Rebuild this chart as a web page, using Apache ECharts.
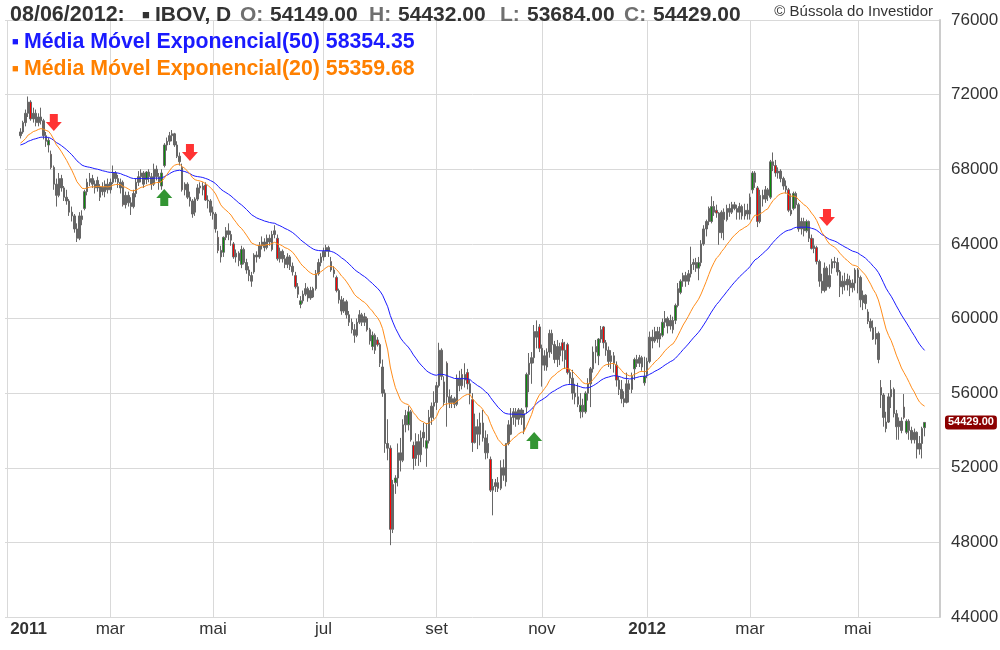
<!DOCTYPE html>
<html><head><meta charset="utf-8">
<script src="https://cdn.jsdelivr.net/npm/echarts@6/dist/echarts.min.js"></script>
<style>html,body{margin:0;padding:0;background:#fff}#c{width:1000px;height:650px}</style>
</head><body><div id="c"></div>
<script>
// ---- calendar (B3 trading days) ----
const firstDay = '2011-01-03';
const lastDay = '2012-06-08';
const holidays = ['2011-01-25','2011-03-07','2011-03-08','2011-04-21','2011-04-22','2011-06-23',
  '2011-09-07','2011-10-12','2011-11-02','2011-11-15','2011-12-30',
  '2012-01-25','2012-02-20','2012-02-21','2012-04-06','2012-05-01','2012-06-07'];
const monthLabels = ['jan','fev','mar','abr','mai','jun','jul','ago','set','out','nov','dez'];
const yTicks = {min: 44000, max: 76000, step: 4000};

// ---- prices: IBOV daily [open, high, low, close], from trading day #5 (10/01/2011) ----
const dataStart = 5;
const ohlc = [
[69800,70200,69650,70000],[70000,70600,69900,70500],[70500,71200,70300,71000],[71000,71900,70800,71600],[71600,71700,70600,70700],
[70700,71300,70500,71000],[71000,71200,70300,70500],[70500,71000,70300,70800],[70800,71300,70400,70600],[70600,70700,69600,69800],
[69800,70000,69200,69500],[69300,69700,68900,69550],[68800,69000,68000,68100],[68100,68200,66900,67200],[67200,67500,66000,66600],
[66600,67800,66500,67500],[67500,67700,66800,67000],[67000,67100,66300,66500],[66500,66900,66100,66300],[66300,66400,65500,65700],
[65700,66000,65200,65500],[65500,65600,64600,64800],[64800,65100,64100,64300],[64300,65700,64200,65500],[65500,65800,65000,65300],
[65900,66900,65800,66800],[66800,67500,66600,67300],[67300,67800,67100,67500],[67500,67700,67000,67200],[67200,67400,66700,67000],
[67000,67600,66800,67400],[66500,67200,66300,67050],[67050,67300,66600,66800],[66800,67400,66500,67200],[67200,67500,66700,66900],
[66900,67500,66700,67300],[67300,68200,67200,67800],[67800,67900,67300,67500],[67500,67700,67000,67300],[67300,67500,66700,67000],
[67300,67400,66000,66100],[66100,66800,65900,66600],[66600,66800,66000,66200],[66200,66500,65550,66000],[66000,66900,65900,66700],
[66700,67500,66500,67300],[67300,67900,67100,67600],[67600,68000,67300,67800],[67800,67900,67000,67200],[67450,67900,67200,67850],
[67850,68000,67300,67600],[67600,67800,66900,67200],[67200,68300,67100,68000],[68000,68200,67400,67600],[67600,67800,66900,67300],
[67100,68000,66900,67800],[68200,69400,68100,69300],[69300,69700,69000,69500],[69500,70000,69300,69800],[69800,70100,69500,69900],
[69900,69950,69200,69300],[69300,69500,68600,68700],[68700,68900,68200,68400],[68100,68300,66800,66900],[66900,67300,66600,67200],
[67200,67300,66400,66500],[66500,66800,66000,66300],[66300,66400,65400,65600],[65700,66500,65500,66400],[66400,67200,66300,67000],
[67000,67300,66700,67100],[67100,67300,66600,66900],[67150,67300,66300,66350],[66350,66600,65900,66300],[66300,66400,65500,65700],
[65700,66000,65300,65600],[65600,65700,64600,64800],[64350,64700,63500,63650],[63650,63900,63000,63300],[63550,64400,63300,64350],
[64350,64900,64200,64700],[64700,65100,64200,64500],[64500,64700,63900,64200],[64000,64100,63200,63300],[63300,63700,63000,63500],
[63500,63600,62800,63100],[62900,63900,62700,63700],[63700,63800,62900,63000],[63000,63200,62400,62600],[62600,62800,62000,62300],
[62300,62500,61700,62000],[62500,63500,62400,63400],[63400,63600,63000,63300],[63300,64100,63200,63900],[63900,64400,63700,64100],
[64100,64300,63600,63800],[63800,64500,63700,64300],[64300,64500,63900,64100],[63700,64700,63600,64500],[64500,65000,64300,64700],
[64300,64500,63100,63200],[63200,63800,63000,63600],[63600,63700,63000,63200],[63200,63400,62700,62900],[62900,63500,62700,63300],
[63300,63400,62600,62800],[62800,63000,62300,62500],[62300,62500,61600,61700],[61700,61900,61100,61300],[60750,61200,60550,60950],
[60950,61500,60800,61300],[61300,61900,61200,61600],[61600,61700,60900,61100],[61100,61700,61000,61500],[61150,61700,61100,61600],
[61600,62600,61500,62400],[62400,63200,62300,63000],[63000,63500,62800,63300],[63300,63800,63100,63600],[63600,63950,63300,63800],
[63800,63900,63300,63600],[63050,63300,62500,62600],[62600,62800,62200,62400],[62200,62300,61400,61500],[61500,61600,60800,61000],
[61000,61200,60200,60400],[60400,61100,60300,60900],[60900,61000,60000,60200],[60200,60400,59600,59800],[59800,60000,59200,59400],
[59400,59700,58700,59100],[59100,60000,59000,59800],[59800,60450,59700,60200],[60200,60300,59600,59800],[59800,60300,59600,60100],
[60000,60100,59300,59400],[59400,59500,58600,58800],[58500,59300,58300,59100],[59100,59200,58100,58300],[58850,59000,58500,58600],
[58600,58700,57400,57600],[57400,57800,55800,56000],[56000,56200,52800,53300],[53300,54600,52400,53050],[53050,53200,47850,48700],
[48700,51350,48500,51100],[51200,51600,50600,51450],[51450,53300,51000,52800],[52800,53600,51800,52400],[52400,54600,52300,54300],
[54300,55100,53900,54800],[54300,55300,54000,55000],[55000,55100,53400,53500],[53200,53400,51900,52500],[52500,53850,52100,53400],
[53400,53800,52100,52700],[52700,54000,52300,53600],[53600,54400,53100,53900],[53050,54400,52050,53450],[53450,55100,53300,54700],
[54700,55500,54300,55300],[55300,56100,54600,55500],[55500,56600,55100,56400],[56400,58700,56300,58300],[58300,58400,56700,56900],
[55500,56900,55300,56600],[57600,57700,54200,55800],[55800,56200,55200,55500],[55500,55900,55200,55700],[55700,55800,55200,55400],
[55400,57000,55300,56800],[56800,57200,56100,56400],[56400,57300,56200,57000],[57000,57600,56300,56700],[57100,57300,56200,56500],
[56500,56700,55400,56000],[55650,56000,52850,53350],[53350,54900,53300,54200],[54200,54600,53000,53800],[53800,54950,53200,54400],
[54400,55100,53400,53600],[53600,54000,52450,52800],[52800,53800,52500,53300],[52450,52600,50700,50800],[50800,51400,49450,51000],
[51000,51400,50700,51200],[51200,51500,50700,50900],[50900,52400,50800,52000],[52000,52450,51300,51600],[51250,53300,51000,53300],
[53300,54550,53200,54300],[53800,55200,53750,54700],[54700,55200,54300,55000],[55000,55200,54200,54600],[54600,55200,54300,55100],
[55100,55200,54300,54700],[54900,55100,53800,54000],[55250,57100,54900,57000],[57000,58150,56050,57600],[57600,58200,56500,57900],
[57900,59650,57600,59300],[59300,59900,58400,59000],[59550,59700,58200,58400],[58400,58600,56350,57500],[57500,58300,57200,58000],
[57400,58400,57200,58200],[58200,59400,57900,59200],[59200,59400,58100,58600],[58600,58800,57600,57800],[57800,58850,57400,58500],
[58500,58700,57500,58000],[58700,58900,57700,58300],[58300,58750,57300,57800],[58600,58700,57000,57100],[57100,57300,56500,56800],
[56800,57250,55650,56000],[56000,56500,55400,55800],[55800,56550,55250,55400],[55000,56000,54650,55350],[55350,55700,54700,55000],
[55000,56100,54900,56000],[56000,56800,55600,56500],[56500,57400,55250,57300],[57300,58500,57100,58200],[58200,58850,57600,58500],
[58000,58950,57500,58900],[58900,59600,58700,59400],[59550,59600,58400,58700],[58700,58850,58000,58300],[58300,58500,57400,57700],
[57700,58300,57300,58000],[58000,58200,57100,57600],[57500,57700,56350,56700],[56700,56900,55900,56200],[56200,56700,55450,55700],
[55700,56100,55250,55500],[55500,57100,55450,56500],[56500,56700,55500,56200],[56200,57100,56000,56900],[57300,57900,56700,57800],
[57800,58050,57400,57600],[57600,58050,57400,57900],[57900,58000,57200,57400],[56550,57950,56400,56900],[57000,57900,56800,57700],
[57700,59300,57600,59000],[59000,59400,58400,58800],[58800,59550,58700,59300],[59300,59550,58700,58900],[58900,59550,58450,59200],
[59100,60000,59000,59800],[59800,60400,59500,60000],[60000,60100,59200,59600],[59600,60200,59400,59900],[59900,60100,59200,59400],
[59900,60800,59700,60700],[60700,61900,60600,61600],[61400,62100,61300,62000],[62000,62450,61700,62300],[62300,62500,61700,62000],
[62000,62600,61800,62400],[62400,63850,62200,62900],[62900,63200,62600,63000],[63000,63250,62500,62700],[62700,63300,62050,63000],
[63000,64200,62800,64000],[64000,65000,63900,64800],[64800,65300,64400,65200],[65200,66000,65000,65900],[65200,66550,65100,66000],
[66000,66300,65500,65700],[65800,66100,65400,65650],[65650,65700,63950,64600],[64600,65800,64300,65700],[65700,65900,64200,65300],
[65300,66100,65200,65900],[65900,66150,65450,65700],[65700,66250,65600,66100],[66100,66250,65800,65900],[65900,66100,65300,65700],
[65700,66200,65300,66000],[66000,66100,65300,65500],[65500,66150,65300,65800],[65800,66150,65300,65600],[65600,66700,65300,66500],
[66900,67900,66700,67800],[67800,67900,67000,67300],[67000,67100,64900,65200],[65200,66900,65100,66600],[66600,66900,66000,66400],
[66400,67100,66200,66900],[66900,67000,66300,66600],[66500,68500,66400,68400],[68400,68900,67900,68200],[68200,68500,67600,67800],
[67800,68100,67500,67900],[67900,68000,67300,67500],[67500,67600,66900,67100],[67100,67400,66700,66900],[66900,67000,65700,65800],
[65800,66700,65500,65600],[65900,66800,65800,66700],[66700,66800,65900,66100],[66100,66200,64650,64800],[64800,65400,64500,65200],
[65200,65400,64400,64700],[64700,65300,64600,65200],[65200,65250,64100,64300],[64300,64500,63700,63750],[63750,64300,63500,63900],
[63800,63900,62900,63050],[63050,63150,61700,62000],[62000,62400,61350,61500],[61500,63000,61400,62700],[62700,62800,61500,61700],
[61700,62900,61600,62300],[62700,63200,62400,63050],[63050,63300,62700,63000],[63000,63250,62300,62500],[62500,62600,61150,61700],
[61700,62300,61300,62000],[62000,62450,61500,61800],[61800,62400,61500,62100],[62050,62300,61200,61650],[61650,62100,61400,61900],
[61900,62700,61500,62600],[62600,62700,61350,62200],[62200,62300,60600,61000],[60850,61500,60450,61250],[61250,61300,60500,60800],
[60350,60500,59700,59850],[59850,60000,59300,59500],[59500,59900,58850,58900],[58900,59550,58600,59200],[59200,59300,57600,57800],
[56300,56700,55200,55900],[55900,56000,54200,54700],[54100,55000,53900,54450],[54450,56000,54400,55800],[55800,56700,55200,56200],
[56200,56300,54700,54900],[54900,55100,53500,54200],[54200,54700,53500,54500],[54500,54700,53850,54000],[55250,55950,54600,54700],
[53900,54600,53800,54500],[54500,54600,53500,54000],[54000,54200,53300,53500],[53500,54100,53300,53900],[53900,53950,52500,53000],
[53000,53700,52700,53300],[53300,54200,52500,54100],[54149,54432,53684,54429]
];
// trading-day indexes whose candle body is highlighted
const redDays = [9,17,45,68,77,82,88,105,112,126,128,140,144,149,158,171,179,181,188,201,207,216,218,232,237,276,292,299,304,313,315,328,335,340,349];
const greenDays = [16,30,36,54,60,61,73,84,91,96,103,114,119,142,151,156,163,170,194,196,202,210,223,225,230,244,248,255,260,262,269,274,290,297,306,311,321,333,342,350,357];
// signal arrows: [trading-day index, price]
const sellArrows = [[18,70506],[71,68898],[319,65414]];
const buyArrows = [[61,66486],[205,53461]];
// EMA values on the first plotted day
const ema50Start = 69300, ema20Start = 69400;
const ema50Label = '58354.35', ema20Label = '55359.68';
const headerDate = '08/06/2012';
const ticker = 'IBOV, D';

// ---- build categories ----
const days = [];
for (let t = Date.parse(firstDay + 'T00:00:00Z'); t <= Date.parse(lastDay + 'T00:00:00Z'); t += 86400000) {
  const d = new Date(t); const wd = d.getUTCDay();
  if (wd === 0 || wd === 6) continue;
  const s = d.toISOString().slice(0, 10);
  if (holidays.indexOf(s) >= 0) continue;
  days.push(s);
}
const padLeft = 1, padRight = 6;
const categories = [];
for (let i = 0; i < padLeft; i++) categories.push('');
days.forEach(d => categories.push(d));
for (let i = 0; i < padRight; i++) categories.push(' '.repeat(i + 1));
const N = categories.length;

const GRAY = '#666666', RED = '#ff0000', GREEN = '#0a8a0a';
const candleData = new Array(N).fill('-');
const closes = [];
ohlc.forEach((r, k) => {
  const day = dataStart + k; const ci = day + padLeft;
  const item = {value: [r[0], r[3], r[2], r[1]]};
  let fill = null;
  if (redDays.indexOf(day) >= 0) fill = RED;
  if (greenDays.indexOf(day) >= 0) fill = GREEN;
  if (fill) item.itemStyle = {color: fill, color0: fill, borderColor: GRAY, borderColor0: GRAY};
  candleData[ci] = item;
  closes.push(r[3]);
});
function emaSeries(seed, period) {
  const k = 2 / (period + 1); const out = new Array(N).fill(null); let v = seed;
  closes.forEach((c, j) => { if (j > 0) v = v + k * (c - v); out[dataStart + j + padLeft] = +v.toFixed(2); });
  return out;
}
const ema50 = emaSeries(ema50Start, 50);
const ema20 = emaSeries(ema20Start, 20);

function isTick(idx) {
  const d = categories[idx]; if (!d || d.length < 10) return false;
  const prev = categories[idx - 1];
  if (prev && prev.length === 10 && prev.slice(0, 7) === d.slice(0, 7)) return false;
  return (+d.slice(5, 7)) % 2 === 1;
}
const FONT = '"Liberation Sans", Arial, Helvetica, sans-serif';
const last = ohlc[ohlc.length - 1];
const fmt = v => v.toFixed(2);

// header pieces: [text, x, colour, size]
const DARK = '#333333', MID = '#6f6f6f';
const header = [
  [headerDate + ':', 10, DARK, 21.5], ['■', 142, DARK, 13], [ticker, 155, DARK, 21],
  ['O:', 240, MID, 21], [fmt(last[0]), 270, DARK, 21],
  ['H:', 369, MID, 21], [fmt(last[1]), 398, DARK, 21],
  ['L:', 500, MID, 21], [fmt(last[2]), 527, DARK, 21],
  ['C:', 624, MID, 21], [fmt(last[3]), 653, DARK, 21]
];
const graphics = header.map(h => ({type: 'text', x: h[1], y: 15, z: 10, style: {
  text: h[0], fill: h[2], fontSize: h[3], fontWeight: h[0] === '■' ? 'normal' : 'bold', fontFamily: FONT, verticalAlign: 'middle'}}));
[[ema50Label, '(50)', '#1a1aff', 42], [ema20Label, '(20)', '#ff8000', 69]].forEach(l => {
  graphics.push({type: 'text', x: 12, y: l[3], z: 10, style: {text: '■', fill: l[2], fontSize: 11, fontFamily: FONT, verticalAlign: 'middle'}});
  graphics.push({type: 'text', x: 24, y: l[3], z: 10, style: {text: 'Média Móvel Exponencial' + l[1] + ' ' + l[0], fill: l[2], fontSize: 21.3, fontWeight: 'bold', fontFamily: FONT, verticalAlign: 'middle'}});
});
graphics.push({type: 'text', x: 933, y: 12, z: 10, style: {text: '© Bússola do Investidor', fill: '#333', fontSize: 15, fontFamily: FONT, align: 'right', verticalAlign: 'middle'}});

const chart = echarts.init(document.getElementById('c'), null, {renderer: 'canvas'});
chart.setOption({
  animation: false,
  textStyle: {fontFamily: FONT},
  grid: {left: 5, right: 60, top: 20, bottom: 33, containLabel: false, outerBoundsMode: 'none'},
  xAxis: {
    type: 'category', data: categories, boundaryGap: false,
    axisLine: {show: false}, axisTick: {show: false},
    axisLabel: {
      interval: (i) => isTick(i), margin: 4, color: '#333', fontSize: 17, fontFamily: FONT,
      formatter: (val, idx) => {
        const m = +val.slice(5, 7);
        if (m === 1) return (idx === padLeft ? '{y0|' : '{y|') + val.slice(0, 4) + '}';
        return monthLabels[m - 1];
      },
      rich: {
        y: {fontWeight: 'bold', fontSize: 17, color: '#333', fontFamily: FONT},
        y0: {fontWeight: 'bold', fontSize: 17, color: '#333', fontFamily: FONT, padding: [0, 0, 0, 42]}
      }
    },
    splitLine: {show: true, interval: (i) => isTick(i), lineStyle: {color: '#d9d9d9', width: 1}}
  },
  yAxis: {
    type: 'value', position: 'right', min: yTicks.min, max: yTicks.max, interval: yTicks.step, scale: true,
    axisLine: {show: true, lineStyle: {color: '#cccccc', width: 2}}, axisTick: {show: false},
    axisLabel: {color: '#333', fontSize: 17, margin: 11, fontFamily: FONT, formatter: v => String(v)},
    splitLine: {lineStyle: {color: '#d9d9d9', width: 1}}
  },
  series: [
    {
      type: 'candlestick', data: candleData, barWidth: 2,
      itemStyle: {color: GRAY, color0: GRAY, borderColor: GRAY, borderColor0: GRAY, borderWidth: 1},
      markLine: {
        silent: true, symbol: 'none', lineStyle: {color: 'transparent', width: 0, type: 'solid'},
        data: [{yAxis: last[3]}],
        label: {show: true, position: 'end', distance: 5, formatter: fmt(last[3]), color: '#fff', fontSize: 11, fontWeight: 'bold',
          backgroundColor: '#8b0000', borderRadius: 3, padding: [2, 3, 1, 3], fontFamily: FONT}
      }
    },
    {type: 'line', data: ema50, showSymbol: false, symbol: 'none', lineStyle: {color: '#1a1aff', width: 1}, z: 3},
    {type: 'line', data: ema20, showSymbol: false, symbol: 'none', lineStyle: {color: '#ff8c1a', width: 1}, z: 3},
    {type: 'scatter', symbol: 'path://M4,0H12V8H16L8,17L0,8H4Z', symbolSize: [16, 17], itemStyle: {color: RED}, z: 5,
      data: sellArrows.map(a => [a[0] + padLeft, a[1]])},
    {type: 'scatter', symbol: 'path://M8,0L16,9H12V17H4V9H0Z', symbolSize: [16, 17], itemStyle: {color: '#007a00'}, z: 5,
      data: buyArrows.map(a => [a[0] + padLeft, a[1]])}
  ],
  graphic: graphics
});
</script></body></html>
